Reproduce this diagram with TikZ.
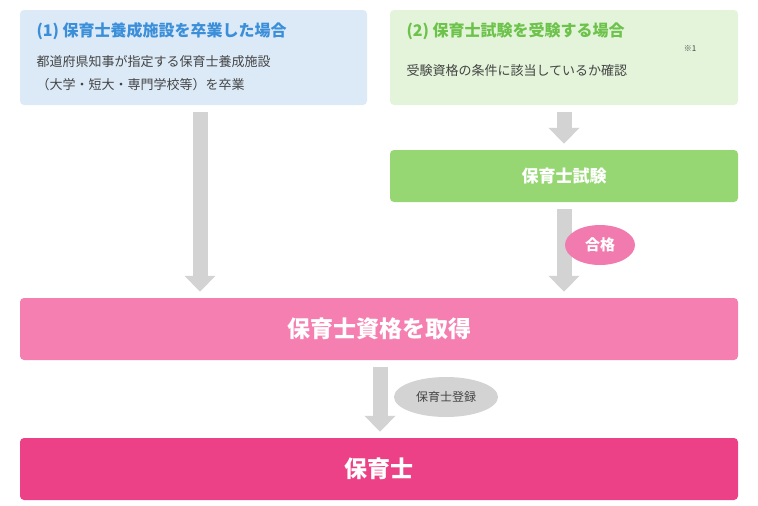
\documentclass[tikz,border=0pt]{standalone}
\usepackage{fontspec}
\setmainfont{Noto Sans CJK JP}
\usetikzlibrary{arrows.meta, positioning, calc, shapes.geometric}
\definecolor{boxblue}{HTML}{DCEAF8}
\definecolor{txtblue}{HTML}{3B8FD9}
\definecolor{boxgreen}{HTML}{E3F4DA}
\definecolor{txtgreen}{HTML}{6CC24A}
\definecolor{examgreen}{HTML}{96D774}
\definecolor{qualpink}{HTML}{F47FB0}
\definecolor{passpink}{HTML}{F17AAE}
\definecolor{finalpink}{HTML}{EC4186}
\definecolor{arrowgrey}{HTML}{D3D3D3}
\definecolor{subgrey}{HTML}{444444}

\begin{document}
\begin{tikzpicture}[x=1pt, y=-1pt,
   panel/.style = {rounded corners=4pt, inner sep=0pt},
   bigarrow/.style = {draw=arrowgrey, line width=15pt, -{Triangle[width=30pt, length=16pt]}, shorten <=7pt, shorten >=6pt},
   tag/.style = {ellipse, inner sep=2pt}]
   \useasboundingbox (0,0) rectangle (758,506);

   \node[panel, fill=boxblue, minimum width=347pt, minimum height=95pt] (route1) at (193.5,57.5) {};
   \node[panel, fill=boxgreen, minimum width=348pt, minimum height=95pt] (route2) at (564,57.5) {};
   \node[panel, fill=examgreen, minimum width=348pt, minimum height=52pt] (exam) at (564,176) {};
   \node[panel, fill=qualpink, minimum width=718pt, minimum height=62pt] (qual) at (379,329) {};
   \node[panel, fill=finalpink, minimum width=718pt, minimum height=62pt] (final) at (379,469) {};

   % texts
   \node[anchor=west, text=txtblue, font=\fontsize{16}{18}\selectfont\bfseries] at (33,31) {(1) 保育士養成施設を卒業した場合};
   \node[anchor=west, text=subgrey, font=\fontsize{13}{23}\selectfont, align=left] at (33,73) {都道府県知事が指定する保育士養成施設\\（大学・短大・専門学校等）を卒業};
   \node[anchor=west, text=txtgreen, font=\fontsize{16}{18}\selectfont\bfseries] at (403,31) {(2) 保育士試験を受験する場合};
   \node[anchor=west, text=subgrey, font=\fontsize{13}{16}\selectfont] at (403,71) {受験資格の条件に該当しているか確認};
   \node[text=subgrey, font=\fontsize{8}{9}\selectfont] at (690,49) {※1};
   \node[text=white, font=\fontsize{17}{20}\selectfont\bfseries] at (exam) {保育士試験};
   \node[text=white, font=\fontsize{23}{26}\selectfont\bfseries] at (qual) {保育士資格を取得};
   \node[text=white, font=\fontsize{23}{26}\selectfont\bfseries] at (final) {保育士};

   % arrows
   \draw[bigarrow] (route1.south -| 200,0) -- (qual.north -| 200,0);
   \draw[bigarrow] (route2.south) -- (exam.north);
   \draw[bigarrow] (exam.south) -- (qual.north -| exam.south);
   \draw[bigarrow] (qual.south -| 380,0) -- (final.north -| 380,0);

   \node[tag, fill=passpink, text=white, font=\fontsize{15}{17}\selectfont\bfseries, minimum width=70pt, minimum height=40pt] (pass) at (600,245) {合格};
   \node[tag, fill=arrowgrey, text=subgrey, font=\fontsize{12}{14}\selectfont, minimum width=104pt, minimum height=40pt] (register) at (446,397) {保育士登録};
\end{tikzpicture}
\end{document}
